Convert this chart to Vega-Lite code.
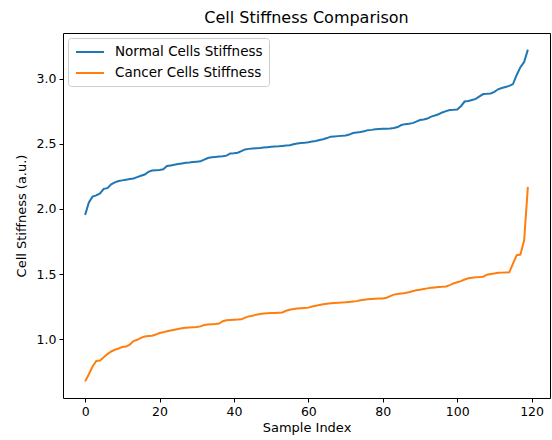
{
  "$schema": "https://vega.github.io/schema/vega-lite/v6.json",
  "width": 487,
  "height": 365,
  "autosize": "none",
  "padding": {"left": 63, "top": 33, "right": 2, "bottom": 42},
  "title": {"text": "Cell Stiffness Comparison", "fontSize": 16, "fontWeight": "normal", "font": "DejaVu Sans", "color": "#000", "offset": 7, "anchor": "middle"},
  "config": {
    "font": "DejaVu Sans",
    "view": {"stroke": "#000", "strokeWidth": 1},
    "axis": {"grid": false, "domain": false, "tickColor": "#000", "tickSize": 4, "labelColor": "#000", "labelFontSize": 12.5, "titleFontSize": 13, "titleFontWeight": "normal", "titleColor": "#000", "labelPadding": 3}
  },
  "data": {"values": [
{"i":0,"n":1.955,"c":0.675},{"i":1,"n":2.05,"c":0.73},{"i":2,"n":2.095,"c":0.79},{"i":3,"n":2.105,"c":0.832},{"i":4,"n":2.12,"c":0.835},
{"i":5,"n":2.155,"c":0.86},{"i":6,"n":2.16,"c":0.885},{"i":7,"n":2.19,"c":0.905},{"i":8,"n":2.205,"c":0.918},{"i":9,"n":2.215,"c":0.928},
{"i":10,"n":2.22,"c":0.94},{"i":11,"n":2.225,"c":0.943},{"i":12,"n":2.23,"c":0.958},{"i":13,"n":2.235,"c":0.985},{"i":14,"n":2.245,"c":0.995},
{"i":15,"n":2.255,"c":1.01},{"i":16,"n":2.265,"c":1.02},{"i":17,"n":2.285,"c":1.024},{"i":18,"n":2.295,"c":1.026},{"i":19,"n":2.298,"c":1.035},
{"i":20,"n":2.3,"c":1.047},{"i":21,"n":2.305,"c":1.052},{"i":22,"n":2.33,"c":1.06},{"i":23,"n":2.335,"c":1.066},{"i":24,"n":2.34,"c":1.072},
{"i":25,"n":2.345,"c":1.078},{"i":26,"n":2.35,"c":1.083},{"i":27,"n":2.355,"c":1.088},{"i":28,"n":2.358,"c":1.09},{"i":29,"n":2.362,"c":1.092},
{"i":30,"n":2.364,"c":1.094},{"i":31,"n":2.366,"c":1.098},{"i":32,"n":2.38,"c":1.108},{"i":33,"n":2.392,"c":1.112},{"i":34,"n":2.397,"c":1.115},
{"i":35,"n":2.4,"c":1.117},{"i":36,"n":2.403,"c":1.12},{"i":37,"n":2.405,"c":1.138},{"i":38,"n":2.41,"c":1.145},{"i":39,"n":2.427,"c":1.147},
{"i":40,"n":2.428,"c":1.149},{"i":41,"n":2.432,"c":1.15},{"i":42,"n":2.445,"c":1.152},{"i":43,"n":2.458,"c":1.165},{"i":44,"n":2.462,"c":1.175},
{"i":45,"n":2.465,"c":1.18},{"i":46,"n":2.467,"c":1.188},{"i":47,"n":2.469,"c":1.193},{"i":48,"n":2.472,"c":1.196},{"i":49,"n":2.475,"c":1.198},
{"i":50,"n":2.478,"c":1.2},{"i":51,"n":2.48,"c":1.201},{"i":52,"n":2.482,"c":1.203},{"i":53,"n":2.485,"c":1.205},{"i":54,"n":2.488,"c":1.218},
{"i":55,"n":2.49,"c":1.226},{"i":56,"n":2.498,"c":1.232},{"i":57,"n":2.504,"c":1.236},{"i":58,"n":2.508,"c":1.238},{"i":59,"n":2.51,"c":1.24},
{"i":60,"n":2.513,"c":1.242},{"i":61,"n":2.518,"c":1.25},{"i":62,"n":2.522,"c":1.257},{"i":63,"n":2.53,"c":1.263},{"i":64,"n":2.536,"c":1.268},
{"i":65,"n":2.545,"c":1.272},{"i":66,"n":2.556,"c":1.275},{"i":67,"n":2.558,"c":1.277},{"i":68,"n":2.56,"c":1.279},{"i":69,"n":2.562,"c":1.281},
{"i":70,"n":2.565,"c":1.283},{"i":71,"n":2.572,"c":1.286},{"i":72,"n":2.584,"c":1.289},{"i":73,"n":2.588,"c":1.292},{"i":74,"n":2.592,"c":1.298},
{"i":75,"n":2.598,"c":1.303},{"i":76,"n":2.606,"c":1.306},{"i":77,"n":2.608,"c":1.308},{"i":78,"n":2.612,"c":1.31},{"i":79,"n":2.614,"c":1.312},
{"i":80,"n":2.616,"c":1.313},{"i":81,"n":2.617,"c":1.318},{"i":82,"n":2.619,"c":1.33},{"i":83,"n":2.622,"c":1.342},{"i":84,"n":2.63,"c":1.346},
{"i":85,"n":2.645,"c":1.35},{"i":86,"n":2.652,"c":1.354},{"i":87,"n":2.655,"c":1.36},{"i":88,"n":2.66,"c":1.368},{"i":89,"n":2.672,"c":1.375},
{"i":90,"n":2.684,"c":1.38},{"i":91,"n":2.688,"c":1.385},{"i":92,"n":2.695,"c":1.39},{"i":93,"n":2.71,"c":1.394},{"i":94,"n":2.718,"c":1.397},
{"i":95,"n":2.728,"c":1.4},{"i":96,"n":2.742,"c":1.402},{"i":97,"n":2.752,"c":1.405},{"i":98,"n":2.76,"c":1.415},{"i":99,"n":2.762,"c":1.428},
{"i":100,"n":2.765,"c":1.437},{"i":101,"n":2.79,"c":1.446},{"i":102,"n":2.826,"c":1.458},{"i":103,"n":2.83,"c":1.468},{"i":104,"n":2.838,"c":1.472},
{"i":105,"n":2.846,"c":1.475},{"i":106,"n":2.865,"c":1.477},{"i":107,"n":2.883,"c":1.48},{"i":108,"n":2.885,"c":1.495},{"i":109,"n":2.888,"c":1.5},
{"i":110,"n":2.9,"c":1.505},{"i":111,"n":2.92,"c":1.51},{"i":112,"n":2.93,"c":1.511},{"i":113,"n":2.938,"c":1.512},{"i":114,"n":2.946,"c":1.513},
{"i":115,"n":2.96,"c":1.58},{"i":116,"n":3.03,"c":1.645},{"i":117,"n":3.09,"c":1.65},{"i":118,"n":3.13,"c":1.76},{"i":119,"n":3.225,"c":2.17}
  ]},
  "transform": [
    {"fold": ["n", "c"], "as": ["key", "value"]},
    {"lookup": "key", "from": {"data": {"values": [{"key": "n", "series": "Normal Cells Stiffness"}, {"key": "c", "series": "Cancer Cells Stiffness"}]}, "key": "key", "fields": ["series"]}}
  ],
  "mark": {"type": "line", "strokeWidth": 2, "clip": true},
  "encoding": {
    "x": {"field": "i", "type": "quantitative", "title": "Sample Index", "scale": {"domain": [-5.95, 124.95], "nice": false, "zero": false}, "axis": {"values": [0, 20, 40, 60, 80, 100, 120], "titlePadding": 4}},
    "y": {"field": "value", "type": "quantitative", "title": "Cell Stiffness (a.u.)", "scale": {"domain": [0.5475, 3.3525], "nice": false, "zero": false}, "axis": {"values": [1.0, 1.5, 2.0, 2.5, 3.0], "format": ".1f", "titlePadding": 8}},
    "color": {"field": "series", "type": "nominal", "scale": {"domain": ["Normal Cells Stiffness", "Cancer Cells Stiffness"], "range": ["#1f77b4", "#ff7f0e"]},
      "legend": {"title": null, "orient": "top-left", "offset": 5, "fillColor": "#fff", "strokeColor": "#cccccc", "cornerRadius": 3, "padding": 6, "symbolType": "M-0.89,0H3.26", "symbolSize": 182, "symbolStrokeWidth": 2, "labelFontSize": 13.5, "labelColor": "#000", "rowPadding": 6, "labelOffset": 25}},
    "order": {"field": "i", "type": "quantitative"}
  }
}
